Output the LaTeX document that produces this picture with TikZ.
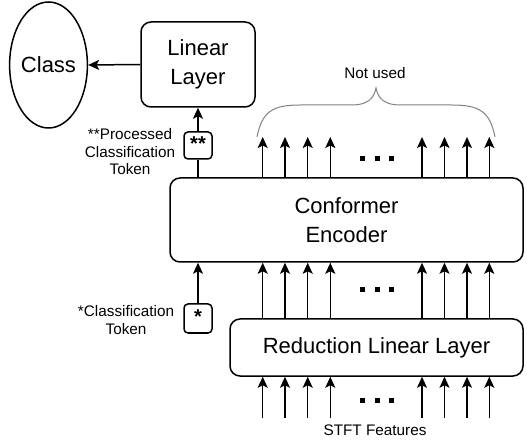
\documentclass[tikz,border=0pt]{standalone}
\usepackage{fontspec}
\setmainfont{Liberation Sans}
\usetikzlibrary{arrows.meta,shapes.geometric}
\tikzset{
  ln/.style={line width=1.5pt, draw=black},
  arr/.style={ln, -{Stealth[length=11pt,width=10pt,inset=2.5pt]}},
  blockbox/.style={ln, rounded corners=10pt, align=center, inner sep=0pt,
    font=\fontsize{22}{29}\selectfont},
  tokbox/.style={ln, rounded corners=4pt, inner sep=0pt},
  star/.style={font=\bfseries\fontsize{20}{20}\selectfont, inner sep=0pt},
  small/.style={align=center, inner sep=0pt, font=\fontsize{15.3}{17.5}\selectfont},
  dotsq/.style={fill=black, draw=none, minimum size=5pt, inner sep=0pt}
}
\begin{document}
\begin{tikzpicture}[x=1pt,y=-1pt]
\useasboundingbox (0,0) rectangle (527,443);
% nodes
\node[ellipse, ln, minimum width=71pt, minimum height=126pt, inner sep=0pt,
  font=\fontsize{22}{29}\selectfont] (class) at (48.5,65) {Class};
\node[blockbox, minimum width=114pt, minimum height=85pt] (linear) at (198,64.5) {Linear\\Layer};
\node[tokbox, minimum width=28pt, minimum height=27pt] (pbox) at (198,145.5) {};
\node[star] (pstar) at (198,144) {**};
\node[blockbox, minimum width=353pt, minimum height=84pt] (conf) at (346.5,220) {Conformer\\Encoder};
\node[tokbox, minimum width=28pt, minimum height=29pt] (cbox) at (198,318.5) {};
\node[star] (cstar) at (198,317) {*};
\node[blockbox, minimum width=293pt, minimum height=57pt] (red) at (376.5,347.5) {Reduction Linear Layer};
% labels
\node[small] (plabel) at (130,152) {**Processed\\Classification\\Token};
\node[small] (clabel) at (126,320) {*Classification\\Token};
\node[small] (notused) at (375,73) {Not used};
\node[small] (stft) at (375,430) {STFT Features};
% connectors
\draw[arr] (linear.west) -- (class.east);
\draw[ln] (pbox |- conf.north) -- (pbox.south);
\draw[arr] (pbox.north) -- (linear.south);
\draw[arr] (cbox.north) -- (cbox |- conf.south);
% token arrows
\foreach \i/\x in {1/262.7,2/285,3/307.7,4/330.3,5/422,6/444.5,7/467,8/489.3}{
  \coordinate (top\i) at (\x,137);
  \coordinate (bot\i) at (\x,418);
  \draw[arr] (top\i |- conf.north) -- (top\i);
  \draw[arr] (top\i |- red.north) -- (top\i |- conf.south);
  \draw[arr] (bot\i) -- (bot\i |- red.south);
}
% dots
\foreach \y in {159,290,400}{
  \foreach \x in {362,377,391}{
    \node[dotsq] at (\x,\y) {};
  }
}
% brace
\coordinate (bl) at (257,137);
\coordinate (br) at (495,137);
\coordinate (btip) at (376,88);
\draw[gray, line width=1pt]
  (bl) .. controls (262,112) and (272,105) .. (300,105)
  -- (352,105) .. controls (368,105) and (374,98) .. (btip)
  .. controls (378,98) and (384,105) .. (400,105)
  -- (452,105) .. controls (480,105) and (490,112) .. (br);
\end{tikzpicture}
\end{document}
